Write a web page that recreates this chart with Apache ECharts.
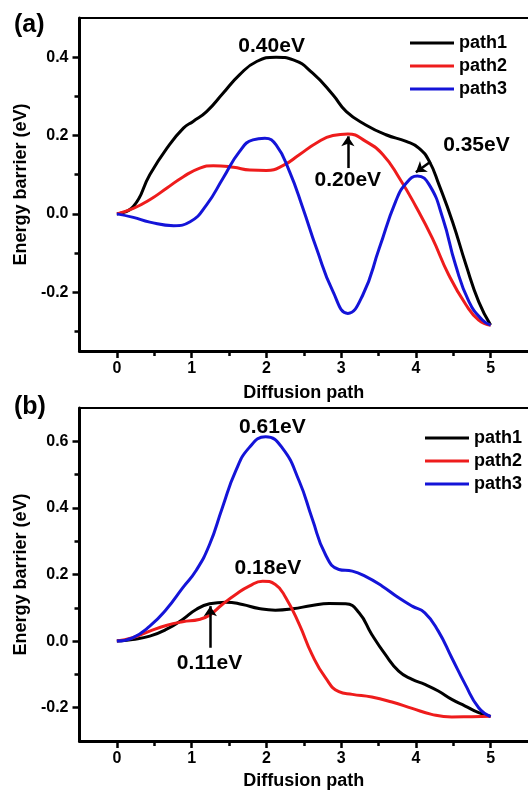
<!DOCTYPE html>
<html><head><meta charset="utf-8">
<script src="https://cdn.jsdelivr.net/npm/echarts@6/dist/echarts.min.js"></script>
<style>html,body{margin:0;padding:0;background:#fff}#c{width:528px;height:791px}</style>
</head><body><div id="c"></div>
<script>
// ---- data: panel (a) ----
const xa1 = [0,0.22,0.44,0.67,0.89,1.02,1.2,1.42,1.64,1.87,2.13,2.36,2.62,2.89,3.07,3.33,3.6,3.87,4.04,4.18,4.31,4.49,4.67,4.84,5];
const ya1 = [0,0.019,0.10,0.168,0.219,0.236,0.261,0.308,0.355,0.389,0.400,0.393,0.359,0.304,0.261,0.227,0.202,0.185,0.168,0.134,0.074,-0.020,-0.130,-0.224,-0.284];
const xa2 = [0,0.22,0.44,0.67,0.89,1.11,1.29,1.56,1.78,2.0,2.22,2.44,2.67,2.89,3.09,3.33,3.56,3.78,4.0,4.22,4.44,4.67,4.84,5];
const ya2 = [0,0.014,0.036,0.066,0.095,0.117,0.123,0.119,0.112,0.111,0.123,0.151,0.181,0.200,0.204,0.185,0.151,0.091,0.019,-0.062,-0.156,-0.232,-0.271,-0.284];
const xa3 = [0,0.22,0.44,0.76,0.98,1.2,1.42,1.64,1.82,1.98,2.13,2.31,2.49,2.67,2.89,3.09,3.29,3.51,3.73,3.87,4.02,4.18,4.36,4.53,4.71,4.89,5];
const ya3 = [0,-0.009,-0.021,-0.030,-0.020,0.023,0.091,0.159,0.189,0.193,0.176,0.108,0.014,-0.088,-0.198,-0.254,-0.207,-0.088,0.032,0.078,0.097,0.074,-0.011,-0.130,-0.224,-0.271,-0.284];
// ---- data: panel (b) ----
const xb1 = [0,0.21,0.44,0.66,0.88,1.06,1.24,1.46,1.68,1.9,2.12,2.35,2.61,2.84,3.06,3.24,3.41,3.59,3.77,3.95,4.12,4.3,4.48,4.66,4.84,5];
const yb1 = [0,0.005,0.015,0.035,0.065,0.095,0.112,0.117,0.110,0.098,0.093,0.097,0.107,0.113,0.112,0.085,0.020,-0.040,-0.090,-0.115,-0.130,-0.150,-0.175,-0.195,-0.215,-0.226];
const xb2 = [0,0.21,0.44,0.66,0.88,1.1,1.24,1.41,1.59,1.77,1.95,2.12,2.26,2.44,2.61,2.79,2.97,3.15,3.41,3.68,3.95,4.21,4.48,4.75,5];
const yb2 = [0,0.010,0.030,0.047,0.058,0.065,0.078,0.110,0.140,0.165,0.180,0.170,0.130,0.050,-0.040,-0.110,-0.152,-0.160,-0.168,-0.183,-0.202,-0.220,-0.228,-0.227,-0.226];
const xb3 = [0,0.21,0.44,0.66,0.88,1.06,1.24,1.41,1.59,1.77,1.99,2.21,2.44,2.61,2.79,2.97,3.15,3.32,3.55,3.77,3.95,4.12,4.3,4.48,4.66,4.84,5];
const yb3 = [0,0.010,0.045,0.095,0.160,0.212,0.290,0.400,0.511,0.581,0.614,0.581,0.480,0.370,0.260,0.215,0.210,0.195,0.165,0.130,0.105,0.085,0.030,-0.050,-0.130,-0.200,-0.227];
// ---- names / ticks ----
const seriesNames = ['path1','path2','path3'];
const xTicks = [0,1,2,3,4,5];
const xMinorTicks = [0.5,1.5,2.5,3.5,4.5];
const yTicksA = [-0.2,0,0.2,0.4];
const yMinorA = [-0.3,-0.1,0.1,0.3];
const yTicksB = [-0.2,0,0.2,0.4,0.6];
const yMinorB = [-0.1,0.1,0.3,0.5];
// ---- annotations: [text, x, y] and arrows [x1,y1,x2,y2] ----
const labelsA = [['0.40eV',2.07,0.427],['0.20eV',3.09,0.085],['0.35eV',4.81,0.176]];
const arrowsA = [[3.09,0.117,3.09,0.198],[4.2,0.134,4.0,0.106]];
const labelsB = [['0.61eV',2.08,0.641],['0.18eV',2.02,0.22],['0.11eV',1.24,-0.065]];
const arrowsB = [[1.25,-0.02,1.25,0.105]];

const colors = ['#000000','#ee1c1c','#1414d8'];
const FONT = '"Liberation Sans", Arial, sans-serif';
const zip = (xs, ys) => xs.map((x, i) => [x, ys[i]]);

function xAxes(grid, nameGap) {
  const base = {gridIndex: grid, type: 'value', min: -0.5, max: 5.5, splitLine: {show: false}};
  return [
    Object.assign({}, base, {
      position: 'bottom',
      name: 'Diffusion path', nameLocation: 'middle', nameGap: nameGap,
      nameTextStyle: {fontFamily: FONT, fontWeight: 'bold', fontSize: 18, color: '#000'},
      axisLine: {show: true, onZero: false, lineStyle: {color: '#000', width: 3}},
      axisTick: {show: true, length: 7, lineStyle: {color: '#000', width: 2.5}, customValues: xTicks},
      axisLabel: {customValues: xTicks, fontFamily: FONT, fontWeight: 'bold', fontSize: 16, color: '#000', margin: 10}
    }),
    Object.assign({}, base, {
      position: 'bottom',
      axisLine: {show: false, onZero: false}, axisLabel: {show: false},
      axisTick: {show: true, length: 5, lineStyle: {color: '#000', width: 2.5}, customValues: xMinorTicks}
    }),
    Object.assign({}, base, {
      position: 'top',
      axisLine: {show: true, onZero: false, lineStyle: {color: '#000', width: 2}},
      axisTick: {show: false}, axisLabel: {show: false}
    })
  ];
}
function yAxes(grid, min, max, major, minor, nameGap) {
  const base = {gridIndex: grid, type: 'value', min: min, max: max, position: 'left', splitLine: {show: false}};
  return [
    Object.assign({}, base, {
      name: 'Energy barrier (eV)', nameLocation: 'middle', nameGap: nameGap, nameRotate: 90,
      nameTextStyle: {fontFamily: FONT, fontWeight: 'bold', fontSize: 18, color: '#000'},
      axisLine: {show: true, onZero: false, lineStyle: {color: '#000', width: 3}},
      axisTick: {show: true, length: 7, lineStyle: {color: '#000', width: 2.5}, customValues: major},
      axisLabel: {customValues: major, formatter: v => v.toFixed(1), fontFamily: FONT, fontWeight: 'bold', fontSize: 16, color: '#000', margin: 11}
    }),
    Object.assign({}, base, {
      axisLine: {show: false, onZero: false}, axisLabel: {show: false},
      axisTick: {show: true, length: 5, lineStyle: {color: '#000', width: 2.5}, customValues: minor}
    })
  ];
}
function annotate(labels, arrows) {
  return {
    markPoint: {
      silent: true, symbol: 'circle', symbolSize: 0, animation: false,
      label: {show: true, position: 'inside', fontFamily: FONT, fontWeight: 'bold', fontSize: 21, color: '#000', formatter: p => p.name},
      data: labels.map(l => ({name: l[0], coord: [l[1], l[2]]}))
    },
    markLine: {
      silent: true, symbol: ['none', 'arrow'], symbolSize: 10, animation: false,
      label: {show: false},
      lineStyle: {color: '#000', width: 2.5, type: 'solid'},
      itemStyle: {color: '#000'},
      data: arrows.map(a => [{coord: [a[0], a[1]]}, {coord: [a[2], a[3]]}])
    }
  };
}
function mkSeries(xIdx, yIdx, datas, ann) {
  return datas.map((d, i) => Object.assign({
    type: 'line', name: seriesNames[i], xAxisIndex: xIdx, yAxisIndex: yIdx,
    data: d, smooth: 0.5, showSymbol: false, symbol: 'none',
    lineStyle: {color: colors[i], width: 3}, itemStyle: {color: colors[i]},
    animation: false, z: 3 + i
  }, i === 0 ? ann : {}));
}

const chart = echarts.init(document.getElementById('c'), null, {renderer: 'canvas'});
const legendBase = {orient: 'vertical', icon: 'rect', itemWidth: 44, itemHeight: 3, itemGap: 5,
  textStyle: {fontFamily: FONT, fontWeight: 'bold', fontSize: 18, color: '#000', padding: [0, 0, 0, 0]},
  data: seriesNames, selectedMode: false};

chart.setOption({
  backgroundColor: '#fff',
  title: [
    {text: '(a)', left: 14, top: 13, padding: 0, textStyle: {fontFamily: FONT, fontWeight: 'bold', fontSize: 25, color: '#000'}},
    {text: '(b)', left: 14, top: 395, padding: 0, textStyle: {fontFamily: FONT, fontWeight: 'bold', fontSize: 25, color: '#000'}}
  ],
  legend: [
    Object.assign({}, legendBase, {left: 410, top: 34, padding: 0}),
    Object.assign({}, legendBase, {left: 425, top: 429, padding: 0})
  ],
  grid: [
    {left: 79.5, top: 18, width: 450, height: 333},
    {left: 79.5, top: 408, width: 450, height: 334}
  ],
  xAxis: [].concat(xAxes(0, 33), xAxes(1, 31)),
  yAxis: [].concat(yAxes(0, -0.35, 0.5, yTicksA, yMinorA, 44), yAxes(1, -0.3, 0.7, yTicksB, yMinorB, 44)),
  series: [].concat(
    mkSeries(0, 0, [zip(xa1, ya1), zip(xa2, ya2), zip(xa3, ya3)], annotate(labelsA, arrowsA)),
    mkSeries(3, 2, [zip(xb1, yb1), zip(xb2, yb2), zip(xb3, yb3)], annotate(labelsB, arrowsB))
  )
});
</script></body></html>
